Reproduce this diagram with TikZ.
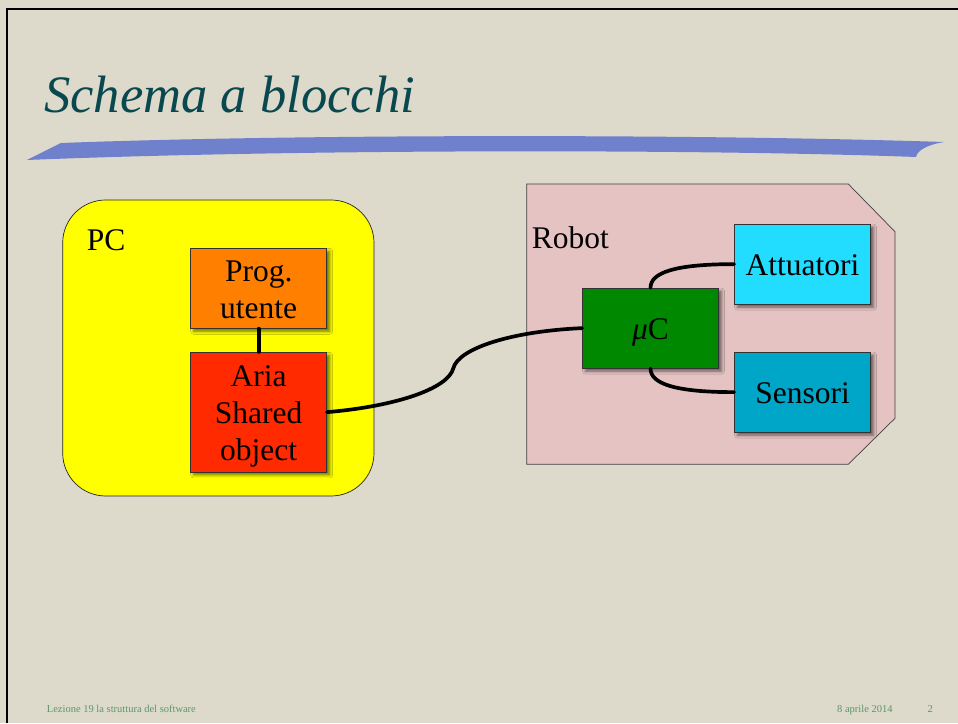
\documentclass[tikz,border=0pt]{standalone}
\usepackage{fontspec}
\setmainfont{Liberation Serif}
\usetikzlibrary{shadows.blur}

\definecolor{paper}{RGB}{221,218,203}
\definecolor{barblue}{RGB}{111,128,204}
\definecolor{titleteal}{RGB}{10,72,80}
\definecolor{footgreen}{RGB}{92,150,108}
\definecolor{pcyellow}{RGB}{255,255,0}
\definecolor{progorange}{RGB}{255,127,0}
\definecolor{ariared}{RGB}{255,42,0}
\definecolor{mcgreen}{RGB}{0,136,0}
\definecolor{attcyan}{RGB}{34,221,255}
\definecolor{sencyan}{RGB}{0,166,200}
\definecolor{robotpink}{RGB}{229,195,195}

% block text: stacked centred lines, set a little below the box centre
\newcommand\blocktext[1]{\raisebox{-4pt}[\height][\depth]{\begin{tabular}{@{}c@{}}#1\end{tabular}}}

\begin{document}
\begin{tikzpicture}[x=1pt,y=1pt,
  bodyfont/.style={font=\fontsize{31.5}{37}\selectfont},
  blk/.style={draw=black!80, line width=0.7pt, minimum width=136pt,
    minimum height=80pt, inner sep=0pt, bodyfont,
    blur shadow={shadow xshift=3pt, shadow yshift=-3pt,
      shadow blur radius=3pt, shadow opacity=55}},
  wire/.style={line width=3.7pt, line cap=round},
  foot/.style={font=\fontsize{10.5}{12}\selectfont, text=footgreen, inner sep=0pt, anchor=base west}]

\useasboundingbox (0,0) rectangle (958,723);
\fill[paper] (0,0) rectangle (958,723);

% frame lines at the top and on the left
\draw[line width=2.5pt] (7,0) -- (7,714) -- (958,714);

% title and swoosh underline
\node[anchor=base west, inner sep=0pt, text=titleteal,
  font=\fontsize{52.6}{60}\selectfont\itshape] (title) at (44,610.3) {Schema a blocchi};
\fill[barblue] (27,563) -- (61,580)
  .. controls (300,589) and (700,589) .. (944,581)
  .. controls (926,578) and (917,572) .. (916,566)
  .. controls (700,574) and (300,574) .. (27,563) -- cycle;

% PC block
\node[draw=black!85, line width=0.7pt, fill=pcyellow, rounded corners=43pt,
  minimum width=311.3pt, minimum height=296pt, inner sep=0pt] (pc) at (218.35,375) {};
\node[anchor=base west, inner sep=0pt, bodyfont] (pclabel) at (86.7,472.3) {PC};
\node[blk, fill=progorange] (prog) at (258.7,434.7) {\blocktext{Prog.\\utente}};
\node[blk, fill=ariared, minimum height=119.7pt] (aria) at (258.7,310.85) {\blocktext{Aria\\Shared\\object}};

% Robot block
\fill[robotpink, draw=black!75, line width=0.7pt]
  (526.7,258.7) -- (526.7,539) -- (848.3,539) -- (895,491.3)
  -- (895,304.7) -- (848.3,258.7) -- cycle;
\node[anchor=base west, inner sep=0pt, bodyfont] (robotlabel) at (531.7,474) {Robot};
\node[blk, fill=mcgreen] (mc) at (650.5,394.85) {\blocktext{{\itshape μ}C}};
\node[blk, fill=attcyan] (att) at (802.5,458.85) {\blocktext{Attuatori}};
\node[blk, fill=sencyan] (sen) at (802.5,330.85) {\blocktext{Sensori}};

% connections
\coordinate (bend) at (453.3,354.7);
\draw[wire] (prog.south) -- (aria.north);
\draw[wire] (aria.east) .. controls +(70,6) and +(-5,-20) .. (bend)
  .. controls +(5,20) and +(-70,-3) .. (mc.west);
\draw[wire] (mc.north) .. controls +(0,15) and +(-60,0) .. (att.west);
\draw[wire] (mc.south) .. controls +(0,-15) and +(-60,0) .. (sen.west);

% footer
\node[foot] (footleft) at (46.7,10.3) {Lezione 19 la struttura del software};
\node[foot] (footdate) at (837,10.3) {8 aprile 2014};
\node[foot] (footpage) at (927.5,10.3) {2};
\end{tikzpicture}
\end{document}
